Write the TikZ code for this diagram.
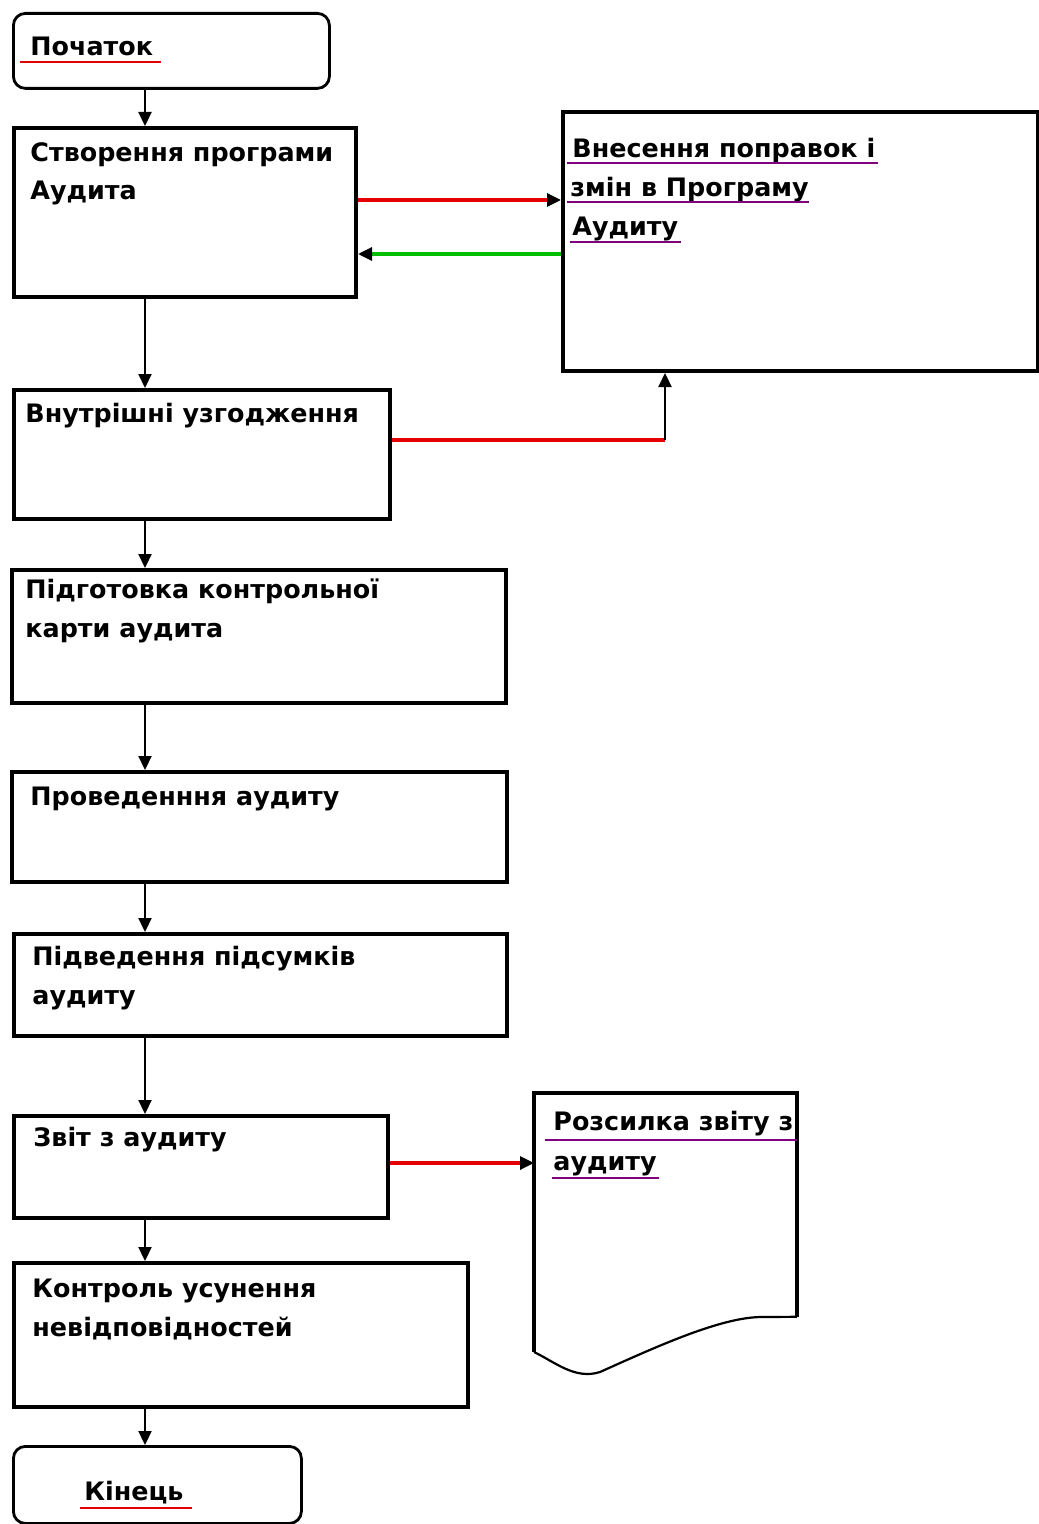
\documentclass[tikz,border=0pt]{standalone}
\usepackage{fontspec}
\setmainfont{DejaVu Sans}
\usetikzlibrary{arrows.meta}

\tikzset{
  stepbox/.style={draw, line width=2pt, inner sep=0pt, anchor=north west},
  endbox/.style={draw, line width=1.4pt, rounded corners=6pt, inner sep=0pt, anchor=north west},
  txt/.style={anchor=base west, inner sep=0pt, font=\fontsize{12.7}{15}\selectfont\bfseries},
  arr/.style={line width=1.1pt, -{Triangle[length=7pt,width=6.5pt,color=black]}},
  redline/.style={line width=1.6pt, red!90!black},
  greenline/.style={line width=1.6pt, green!75!black},
  uline/.style={line width=1.4pt, violet},
  rline/.style={line width=1.4pt, red!90!black},
}

\begin{document}
\begin{tikzpicture}[x=0.5pt, y=-0.5pt]
    \useasboundingbox (0,0) rectangle (1038,1524);

    % Start and end
    \node[endbox, minimum width=158pt, minimum height=37.5pt] (b1) at (12,12) {};
    \node[txt] (t1) at (30,56) {Початок};
    \draw[rline] ([xshift=-5pt,yshift=-3pt]t1.base west) -- ([xshift=4pt,yshift=-3pt]t1.base east);

    \node[endbox, minimum width=144pt, minimum height=38.5pt] (b10) at (12,1445) {};
    \node[txt] (t10) at (84,1500) {Кінець};
    \draw[rline] ([xshift=-2pt,yshift=-4pt]t10.base west) -- ([xshift=4pt,yshift=-4pt]t10.base east);

    % Main chain of steps
    \node[stepbox, minimum width=171pt, minimum height=84.5pt] (b2) at (12,126) {};
    \node[txt] (t21) at (30,162) {Створення програми};
    \node[txt] (t22) at (30,200) {Аудита};

    \node[stepbox, minimum width=188pt, minimum height=64.5pt] (b4) at (12,388) {};
    \node[txt] (t4) at (25,422) {Внутрішні узгодження};

    \node[stepbox, minimum width=247pt, minimum height=66.5pt] (b5) at (10,568) {};
    \node[txt] (t51) at (25,598) {Підготовка контрольної};
    \node[txt] (t52) at (25,637) {карти аудита};

    \node[stepbox, minimum width=247.5pt, minimum height=55pt] (b6) at (10,770) {};
    \node[txt] (t6) at (30,805) {Проведенння аудиту};

    \node[stepbox, minimum width=246.5pt, minimum height=51pt] (b7) at (12,932) {};
    \node[txt] (t71) at (32,965) {Підведення підсумків};
    \node[txt] (t72) at (32,1004) {аудиту};

    \node[stepbox, minimum width=187pt, minimum height=51pt] (b8) at (12,1114) {};
    \node[txt] (t8) at (33,1146) {Звіт з аудиту};

    \node[stepbox, minimum width=227pt, minimum height=72pt] (b9) at (12,1261) {};
    \node[txt] (t91) at (32,1297) {Контроль усунення};
    \node[txt] (t92) at (32,1336) {невідповідностей};

    % Corrections box
    \node[stepbox, minimum width=237.5pt, minimum height=129.5pt] (b3) at (561,110) {};
    \node[txt] (t31) at (572,158) {Внесення поправок і};
    \node[txt] (t32) at (570,197) {змін в Програму};
    \node[txt] (t33) at (572,236) {Аудиту};
    \draw[uline] ([xshift=-2.5pt,yshift=-2.5pt]t31.base west) -- ([xshift=1pt,yshift=-2.5pt]t31.base east);
    \draw[uline] ([xshift=-1.5pt,yshift=-2.5pt]t32.base west) -- ([yshift=-2.5pt]t32.base east);
    \draw[uline] ([xshift=-1pt,yshift=-3pt]t33.base west) -- ([xshift=1pt,yshift=-3pt]t33.base east);

    % Report distribution (document shape)
    \node[inner sep=0pt, anchor=north west, minimum width=131pt, minimum height=111.5pt] (doc) at (534,1093) {};
    \draw[line width=1.7pt] (doc.south east) -- (doc.north east) -- (doc.north west) -- (534,1352);
    \draw[line width=1.1pt] (doc.south east) -- (760,1317)
        .. controls (720,1318) and (660,1345) .. (600,1372)
        .. controls (575,1380) and (555,1362) .. (534,1352);
    \node[txt] (t111) at (553,1130) {Розсилка звіту з};
    \node[txt] (t112) at (553,1170) {аудиту};
    \draw[uline] ([xshift=-4pt,yshift=-5pt]t111.base west) -- ([yshift=-5pt]doc.east |- t111.base);
    \draw[uline] ([xshift=-0.5pt,yshift=-4pt]t112.base west) -- ([xshift=1pt,yshift=-4pt]t112.base east);

    % Vertical arrows
    \coordinate (ax) at (145,0);
    \foreach \a/\b in {b1/b2, b2/b4, b4/b5, b5/b6, b6/b7, b7/b8, b8/b9, b9/b10}
        \draw[arr] (\a.south -| ax) -- (\b.north -| ax);

    % Side connectors
    \draw[arr, redline] (b2.east |- 0,200) -- (b3.west |- 0,200);
    \draw[arr, greenline] (b3.west |- 0,254) -- (b2.east |- 0,254);
    \coordinate (k) at (665,440);
    \draw[redline] (b4.east |- k) -- (k);
    \draw[arr] (k) -- (k |- b3.south);
    \draw[arr, redline] (b8.east |- 0,1163) -- (doc.west |- 0,1163);
\end{tikzpicture}
\end{document}
